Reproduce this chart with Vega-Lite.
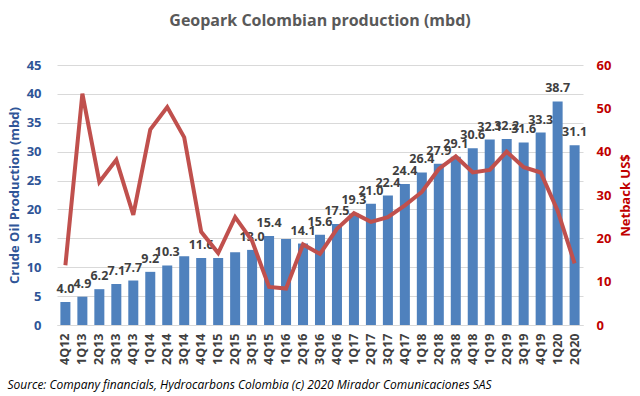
{
  "$schema": "https://vega.github.io/schema/vega-lite/v6.json",
  "width": 526,
  "height": 260,
  "autosize": "none",
  "padding": {"left": 57, "top": 65, "right": 57, "bottom": 71},
  "background": "white",
  "title": {
    "text": "Geopark Colombian production (mbd)",
    "anchor": "middle",
    "font": "Open Sans",
    "fontSize": 16,
    "fontWeight": "bold",
    "color": "#595959",
    "offset": 30
  },
  "config": {"view": {"stroke": null}, "font": "Open Sans"},
  "data": {
    "values": [
      {"q": "4Q12", "prod": 4.0, "label": "4.0", "netback": 13.8},
      {"q": "1Q13", "prod": 4.9, "label": "4.9", "netback": 53.4},
      {"q": "2Q13", "prod": 6.2, "label": "6.2", "netback": 33.0},
      {"q": "3Q13", "prod": 7.1, "label": "7.1", "netback": 38.1},
      {"q": "4Q13", "prod": 7.7, "label": "7.7", "netback": 25.4},
      {"q": "1Q14", "prod": 9.2, "label": "9.2", "netback": 45.1},
      {"q": "2Q14", "prod": 10.3, "label": "10.3", "netback": 50.3},
      {"q": "3Q14", "prod": 11.9, "label": null, "netback": 43.3},
      {"q": "4Q14", "prod": 11.6, "label": "11.6", "netback": 21.5},
      {"q": "1Q15", "prod": 11.6, "label": null, "netback": 16.6},
      {"q": "2Q15", "prod": 12.6, "label": null, "netback": 24.9},
      {"q": "3Q15", "prod": 13.0, "label": "13.0", "netback": 19.4},
      {"q": "4Q15", "prod": 15.4, "label": "15.4", "netback": 8.8},
      {"q": "1Q16", "prod": 14.9, "label": null, "netback": 8.4},
      {"q": "2Q16", "prod": 14.1, "label": "14.1", "netback": 18.6},
      {"q": "3Q16", "prod": 15.6, "label": "15.6", "netback": 16.4},
      {"q": "4Q16", "prod": 17.5, "label": "17.5", "netback": 22.2},
      {"q": "1Q17", "prod": 19.3, "label": "19.3", "netback": 25.8},
      {"q": "2Q17", "prod": 21.0, "label": "21.0", "netback": 23.8},
      {"q": "3Q17", "prod": 22.4, "label": "22.4", "netback": 24.9},
      {"q": "4Q17", "prod": 24.4, "label": "24.4", "netback": 27.6},
      {"q": "1Q18", "prod": 26.4, "label": "26.4", "netback": 30.7},
      {"q": "2Q18", "prod": 27.9, "label": "27.9", "netback": 36.0},
      {"q": "3Q18", "prod": 29.1, "label": "29.1", "netback": 38.9},
      {"q": "4Q18", "prod": 30.6, "label": "30.6", "netback": 35.2},
      {"q": "1Q19", "prod": 32.1, "label": "32.1", "netback": 35.8},
      {"q": "2Q19", "prod": 32.2, "label": "32.2", "netback": 40.0},
      {"q": "3Q19", "prod": 31.6, "label": "31.6", "netback": 36.4},
      {"q": "4Q19", "prod": 33.3, "label": "33.3", "netback": 35.2},
      {"q": "1Q20", "prod": 38.7, "label": "38.7", "netback": 26.4},
      {"q": "2Q20", "prod": 31.1, "label": "31.1", "netback": 14.2}
    ]
  },
  "encoding": {
    "x": {
      "field": "q",
      "type": "ordinal",
      "sort": null,
      "scale": {"paddingInner": 0.41, "paddingOuter": 0.2},
      "axis": {
        "title": "Source: Company financials, Hydrocarbons Colombia (c) 2020 Mirador Comunicaciones SAS",
        "titleX": -50,
        "titleY": 63,
        "titleAlign": "left",
        "titleAnchor": null,
        "titleBaseline": "alphabetic",
        "titleFont": "Open Sans",
        "titleFontStyle": "italic",
        "titleFontWeight": "normal",
        "titleFontSize": 12,
        "titleColor": "#000000",
        "labelAngle": -90,
        "labelFontWeight": "bold",
        "labelFontSize": 12.5,
        "labelColor": "#404040",
        "labelPadding": 8,
        "labelOverlap": false,
        "domainColor": "#D9D9D9",
        "ticks": false
      }
    }
  },
  "layer": [
    {
      "encoding": {
        "y": {
          "field": "prod",
          "type": "quantitative",
          "scale": {"domain": [0, 45], "nice": false},
          "axis": {
            "title": "Crude Oil Production (mbd)",
            "titleColor": "#2F5597",
            "titleFontSize": 13,
            "titleFontWeight": "bold",
            "titleX": -43,
            "titleY": 130,
            "titleAngle": 270,
            "titleAnchor": null,
            "titleAlign": "center",
            "titleBaseline": "middle",
            "values": [0, 5, 10, 15, 20, 25, 30, 35, 40, 45],
            "labelOverlap": false,
            "labelColor": "#2F5597",
            "labelFontWeight": "bold",
            "labelFontSize": 13,
            "labelPadding": 16,
            "grid": true,
            "gridColor": "#D9D9D9",
            "domain": false,
            "ticks": false
          }
        }
      },
      "layer": [
        {
          "mark": {"type": "bar", "color": "#4F81BD"}
        },
        {
          "transform": [{"filter": "datum.label != null"}],
          "mark": {"type": "text", "dy": -13, "fontWeight": "bold", "fontSize": 12.5, "color": "#404040"},
          "encoding": {
            "text": {"field": "label"}
          }
        }
      ]
    },
    {
      "mark": {"type": "line", "color": "#C0504D", "strokeWidth": 4, "strokeJoin": "miter"},
      "encoding": {
        "y": {
          "field": "netback",
          "type": "quantitative",
          "scale": {"domain": [0, 60], "nice": false},
          "axis": {
            "orient": "right",
            "title": "Netback US$",
            "titleAngle": 270,
            "titleX": 42,
            "titleY": 130,
            "titleAnchor": null,
            "titleAlign": "center",
            "titleBaseline": "middle",
            "titleColor": "#C00000",
            "titleFontSize": 13,
            "titleFontWeight": "bold",
            "values": [0, 10, 20, 30, 40, 50, 60],
            "labelOverlap": false,
            "labelColor": "#C00000",
            "labelFontWeight": "bold",
            "labelFontSize": 13,
            "labelPadding": 13,
            "grid": false,
            "domain": false,
            "ticks": false
          }
        }
      }
    }
  ],
  "resolve": {"scale": {"y": "independent"}}
}
